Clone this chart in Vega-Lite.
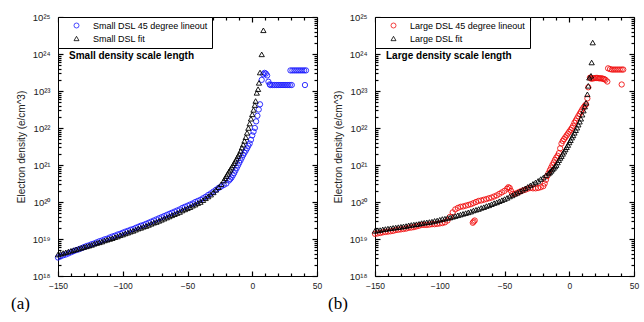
{
"$schema": "https://vega.github.io/schema/vega-lite/v6.json",
"padding": {"left": 10, "top": 11, "right": 5, "bottom": 0},
"background": "white",
"config": {
  "view": {"stroke": "black", "strokeWidth": 1},
  "font": "Liberation Sans",
  "axis": {"labelFont": "Liberation Sans", "labelFontSize": 8.5, "labelColor": "#222", "grid": false, "domain": false, "ticks": true, "tickColor": "black", "tickWidth": 1.2, "titleFont": "Liberation Sans"},
  "concat": {"spacing": 4}
},
"datasets": {
"ax": [{"x": 0, "y": 1e20}],
"a": [
{"s":"data","x":-150,"y":3.16e18},{"s":"data","x":-148,"y":3.39e18},{"s":"data","x":-146,"y":3.63e18},{"s":"data","x":-144,"y":3.80e18},{"s":"data","x":-142,"y":4.07e18},{"s":"data","x":-140,"y":4.37e18},{"s":"data","x":-138,"y":4.68e18},{"s":"data","x":-136,"y":5.01e18},{"s":"data","x":-134,"y":5.25e18},{"s":"data","x":-132,"y":5.62e18},{"s":"data","x":-130,"y":6.03e18},{"s":"data","x":-128,"y":6.46e18},{"s":"data","x":-126,"y":6.76e18},{"s":"data","x":-124,"y":7.24e18},{"s":"data","x":-122,"y":7.59e18},{"s":"data","x":-120,"y":8.13e18},{"s":"data","x":-118,"y":8.71e18},{"s":"data","x":-116,"y":9.12e18},{"s":"data","x":-114,"y":9.77e18},{"s":"data","x":-112,"y":1.02e19},{"s":"data","x":-110,"y":1.10e19},{"s":"data","x":-108,"y":1.17e19},{"s":"data","x":-106,"y":1.23e19},{"s":"data","x":-104,"y":1.32e19},{"s":"data","x":-102,"y":1.38e19},{"s":"data","x":-100,"y":1.48e19},{"s":"data","x":-98,"y":1.58e19},{"s":"data","x":-96,"y":1.66e19},{"s":"data","x":-94,"y":1.78e19},{"s":"data","x":-92,"y":1.86e19},{"s":"data","x":-90,"y":2.00e19},{"s":"data","x":-88,"y":2.14e19},{"s":"data","x":-86,"y":2.29e19},{"s":"data","x":-84,"y":2.40e19},{"s":"data","x":-82,"y":2.57e19},{"s":"data","x":-80,"y":2.75e19},{"s":"data","x":-78,"y":2.95e19},{"s":"data","x":-76,"y":3.16e19},{"s":"data","x":-74,"y":3.39e19},{"s":"data","x":-72,"y":3.63e19},{"s":"data","x":-70,"y":3.89e19},{"s":"data","x":-68,"y":4.17e19},{"s":"data","x":-66,"y":4.47e19},{"s":"data","x":-64,"y":4.79e19},{"s":"data","x":-62,"y":5.13e19},{"s":"data","x":-60,"y":5.50e19},{"s":"data","x":-58,"y":5.89e19},{"s":"data","x":-56,"y":6.31e19},{"s":"data","x":-54,"y":6.92e19},{"s":"data","x":-52,"y":7.41e19},{"s":"data","x":-50,"y":7.94e19},{"s":"data","x":-48,"y":8.51e19},{"s":"data","x":-46,"y":9.12e19},{"s":"data","x":-44,"y":1.00e20},{"s":"data","x":-42,"y":1.07e20},{"s":"data","x":-40,"y":1.15e20},{"s":"data","x":-38,"y":1.26e20},{"s":"data","x":-36,"y":1.38e20},{"s":"data","x":-34,"y":1.55e20},{"s":"data","x":-32,"y":1.70e20},{"s":"data","x":-30,"y":1.91e20},{"s":"data","x":-28,"y":2.14e20},{"s":"data","x":-26,"y":2.40e20},{"s":"data","x":-24,"y":2.63e20},{"s":"data","x":-22,"y":2.88e20},{"s":"data","x":-20,"y":3.16e20},{"s":"data","x":-18,"y":3.80e20},{"s":"data","x":-17,"y":4.17e20},{"s":"data","x":-16,"y":4.57e20},{"s":"data","x":-15,"y":5.25e20},{"s":"data","x":-14,"y":6.03e20},{"s":"data","x":-13,"y":7.08e20},{"s":"data","x":-12,"y":8.32e20},{"s":"data","x":-11,"y":9.77e20},{"s":"data","x":-10,"y":1.15e21},{"s":"data","x":-9,"y":1.35e21},{"s":"data","x":-8,"y":1.58e21},{"s":"data","x":-7,"y":1.86e21},{"s":"data","x":-6,"y":2.14e21},{"s":"data","x":-5,"y":2.45e21},{"s":"data","x":-4,"y":2.82e21},{"s":"data","x":-3,"y":3.31e21},{"s":"data","x":-2,"y":3.80e21},{"s":"data","x":-1,"y":4.79e21},{"s":"data","x":0,"y":6.31e21},{"s":"data","x":1,"y":7.94e21},{"s":"data","x":2,"y":1.00e22},{"s":"data","x":3,"y":1.51e22},{"s":"data","x":4,"y":2.14e22},{"s":"data","x":5,"y":3.16e22},{"s":"data","x":6,"y":4.37e22},{"s":"data","x":7.3,"y":2.00e23},{"s":"data","x":8.5,"y":2.82e23},{"s":"data","x":9.5,"y":3.09e23},{"s":"data","x":10.5,"y":2.95e23},{"s":"data","x":11.5,"y":2.63e23},{"s":"data","x":12.5,"y":1.78e23},{"s":"data","x":13.5,"y":1.51e23},{"s":"data","x":14,"y":1.45e23},{"s":"data","x":15.5,"y":1.45e23},{"s":"data","x":17,"y":1.45e23},{"s":"data","x":18.5,"y":1.45e23},{"s":"data","x":20,"y":1.45e23},{"s":"data","x":21.5,"y":1.45e23},{"s":"data","x":23,"y":1.45e23},{"s":"data","x":24.5,"y":1.45e23},{"s":"data","x":26,"y":1.45e23},{"s":"data","x":27.5,"y":1.45e23},{"s":"data","x":29,"y":1.45e23},{"s":"data","x":30.5,"y":1.45e23},{"s":"data","x":29.5,"y":3.6e23},{"s":"data","x":31,"y":3.6e23},{"s":"data","x":32.5,"y":3.6e23},{"s":"data","x":34,"y":3.6e23},{"s":"data","x":35.5,"y":3.6e23},{"s":"data","x":37,"y":3.6e23},{"s":"data","x":38.5,"y":3.6e23},{"s":"data","x":40,"y":3.6e23},{"s":"data","x":41.5,"y":3.6e23},{"s":"data","x":40.7,"y":1.45e23},
{"s":"fit","x":-150,"y":3.80e18},{"s":"fit","x":-148,"y":3.98e18},{"s":"fit","x":-146,"y":4.17e18},{"s":"fit","x":-144,"y":4.37e18},{"s":"fit","x":-142,"y":4.57e18},{"s":"fit","x":-140,"y":4.79e18},{"s":"fit","x":-138,"y":5.01e18},{"s":"fit","x":-136,"y":5.25e18},{"s":"fit","x":-134,"y":5.50e18},{"s":"fit","x":-132,"y":5.75e18},{"s":"fit","x":-130,"y":6.03e18},{"s":"fit","x":-128,"y":6.31e18},{"s":"fit","x":-126,"y":6.61e18},{"s":"fit","x":-124,"y":6.92e18},{"s":"fit","x":-122,"y":7.41e18},{"s":"fit","x":-120,"y":7.76e18},{"s":"fit","x":-118,"y":8.13e18},{"s":"fit","x":-116,"y":8.51e18},{"s":"fit","x":-114,"y":9.12e18},{"s":"fit","x":-112,"y":9.55e18},{"s":"fit","x":-110,"y":1.00e19},{"s":"fit","x":-108,"y":1.05e19},{"s":"fit","x":-106,"y":1.12e19},{"s":"fit","x":-104,"y":1.17e19},{"s":"fit","x":-102,"y":1.26e19},{"s":"fit","x":-100,"y":1.32e19},{"s":"fit","x":-98,"y":1.41e19},{"s":"fit","x":-96,"y":1.48e19},{"s":"fit","x":-94,"y":1.58e19},{"s":"fit","x":-92,"y":1.66e19},{"s":"fit","x":-90,"y":1.78e19},{"s":"fit","x":-88,"y":1.91e19},{"s":"fit","x":-86,"y":2.00e19},{"s":"fit","x":-84,"y":2.14e19},{"s":"fit","x":-82,"y":2.24e19},{"s":"fit","x":-80,"y":2.40e19},{"s":"fit","x":-78,"y":2.57e19},{"s":"fit","x":-76,"y":2.75e19},{"s":"fit","x":-74,"y":2.88e19},{"s":"fit","x":-72,"y":3.09e19},{"s":"fit","x":-70,"y":3.31e19},{"s":"fit","x":-68,"y":3.55e19},{"s":"fit","x":-66,"y":3.80e19},{"s":"fit","x":-64,"y":4.07e19},{"s":"fit","x":-62,"y":4.37e19},{"s":"fit","x":-60,"y":4.68e19},{"s":"fit","x":-58,"y":5.01e19},{"s":"fit","x":-56,"y":5.37e19},{"s":"fit","x":-54,"y":5.89e19},{"s":"fit","x":-52,"y":6.31e19},{"s":"fit","x":-50,"y":6.76e19},{"s":"fit","x":-48,"y":7.24e19},{"s":"fit","x":-46,"y":7.94e19},{"s":"fit","x":-44,"y":8.51e19},{"s":"fit","x":-42,"y":9.33e19},{"s":"fit","x":-40,"y":1.00e20},{"s":"fit","x":-38,"y":1.12e20},{"s":"fit","x":-36,"y":1.26e20},{"s":"fit","x":-34,"y":1.41e20},{"s":"fit","x":-32,"y":1.58e20},{"s":"fit","x":-30,"y":1.82e20},{"s":"fit","x":-28,"y":2.14e20},{"s":"fit","x":-26,"y":2.51e20},{"s":"fit","x":-24,"y":3.02e20},{"s":"fit","x":-22,"y":3.80e20},{"s":"fit","x":-21,"y":4.37e20},{"s":"fit","x":-20,"y":5.01e20},{"s":"fit","x":-19,"y":5.75e20},{"s":"fit","x":-18,"y":6.61e20},{"s":"fit","x":-17,"y":7.41e20},{"s":"fit","x":-16,"y":8.51e20},{"s":"fit","x":-15,"y":9.77e20},{"s":"fit","x":-14,"y":1.12e21},{"s":"fit","x":-13,"y":1.29e21},{"s":"fit","x":-12,"y":1.48e21},{"s":"fit","x":-11,"y":1.74e21},{"s":"fit","x":-10,"y":2.00e21},{"s":"fit","x":-9,"y":2.40e21},{"s":"fit","x":-8,"y":2.95e21},{"s":"fit","x":-7,"y":3.55e21},{"s":"fit","x":-6,"y":4.47e21},{"s":"fit","x":-5,"y":5.62e21},{"s":"fit","x":-4,"y":7.41e21},{"s":"fit","x":-3,"y":1.00e22},{"s":"fit","x":-2,"y":1.32e22},{"s":"fit","x":-1,"y":1.78e22},{"s":"fit","x":0,"y":2.34e22},{"s":"fit","x":1,"y":3.09e22},{"s":"fit","x":2,"y":4.17e22},{"s":"fit","x":2.6,"y":5.37e22},{"s":"fit","x":3.5,"y":8.91e22},{"s":"fit","x":4.5,"y":1.12e23},{"s":"fit","x":5.2,"y":1.66e23},{"s":"fit","x":6.0,"y":3.16e23},{"s":"fit","x":7.3,"y":9.77e23},{"s":"fit","x":8.6,"y":4.37e24}
],
"b": [
{"s":"data","x":-150,"y":1.38e19},{"s":"data","x":-148,"y":1.41e19},{"s":"data","x":-146,"y":1.45e19},{"s":"data","x":-144,"y":1.51e19},{"s":"data","x":-142,"y":1.55e19},{"s":"data","x":-140,"y":1.58e19},{"s":"data","x":-138,"y":1.62e19},{"s":"data","x":-136,"y":1.66e19},{"s":"data","x":-134,"y":1.74e19},{"s":"data","x":-132,"y":1.78e19},{"s":"data","x":-130,"y":1.82e19},{"s":"data","x":-128,"y":1.86e19},{"s":"data","x":-126,"y":1.91e19},{"s":"data","x":-124,"y":2.00e19},{"s":"data","x":-122,"y":2.04e19},{"s":"data","x":-120,"y":2.09e19},{"s":"data","x":-118,"y":2.19e19},{"s":"data","x":-116,"y":2.29e19},{"s":"data","x":-114,"y":2.40e19},{"s":"data","x":-112,"y":2.40e19},{"s":"data","x":-110,"y":2.40e19},{"s":"data","x":-108,"y":2.45e19},{"s":"data","x":-106,"y":2.51e19},{"s":"data","x":-104,"y":2.51e19},{"s":"data","x":-102,"y":2.57e19},{"s":"data","x":-100,"y":2.63e19},{"s":"data","x":-98,"y":2.69e19},{"s":"data","x":-96,"y":2.82e19},{"s":"data","x":-94,"y":3.16e19},{"s":"data","x":-92,"y":3.98e19},{"s":"data","x":-90,"y":5.25e19},{"s":"data","x":-88,"y":6.31e19},{"s":"data","x":-86,"y":6.92e19},{"s":"data","x":-84,"y":7.41e19},{"s":"data","x":-82,"y":7.59e19},{"s":"data","x":-80,"y":7.94e19},{"s":"data","x":-78,"y":8.32e19},{"s":"data","x":-76,"y":8.71e19},{"s":"data","x":-74,"y":9.33e19},{"s":"data","x":-72,"y":1.00e20},{"s":"data","x":-70,"y":1.07e20},{"s":"data","x":-68,"y":1.10e20},{"s":"data","x":-66,"y":1.15e20},{"s":"data","x":-64,"y":1.20e20},{"s":"data","x":-62,"y":1.26e20},{"s":"data","x":-60,"y":1.32e20},{"s":"data","x":-58,"y":1.41e20},{"s":"data","x":-56,"y":1.51e20},{"s":"data","x":-54,"y":1.66e20},{"s":"data","x":-52,"y":1.82e20},{"s":"data","x":-50,"y":2.00e20},{"s":"data","x":-48,"y":2.29e20},{"s":"data","x":-47,"y":2.51e20},{"s":"data","x":-46,"y":2.40e20},{"s":"data","x":-45,"y":2.00e20},{"s":"data","x":-44,"y":1.66e20},{"s":"data","x":-42,"y":1.66e20},{"s":"data","x":-40,"y":1.78e20},{"s":"data","x":-38,"y":1.91e20},{"s":"data","x":-36,"y":2.04e20},{"s":"data","x":-34,"y":2.14e20},{"s":"data","x":-32,"y":2.29e20},{"s":"data","x":-30,"y":2.40e20},{"s":"data","x":-28,"y":2.34e20},{"s":"data","x":-26,"y":2.34e20},{"s":"data","x":-24,"y":2.40e20},{"s":"data","x":-22,"y":2.51e20},{"s":"data","x":-20,"y":2.69e20},{"s":"data","x":-19,"y":3.16e20},{"s":"data","x":-18,"y":3.98e20},{"s":"data","x":-17,"y":5.01e20},{"s":"data","x":-16,"y":6.03e20},{"s":"data","x":-15,"y":7.24e20},{"s":"data","x":-14,"y":8.51e20},{"s":"data","x":-13,"y":1.00e21},{"s":"data","x":-12,"y":1.17e21},{"s":"data","x":-11,"y":1.38e21},{"s":"data","x":-10,"y":1.58e21},{"s":"data","x":-9,"y":1.78e21},{"s":"data","x":-8,"y":2.09e21},{"s":"data","x":-7,"y":2.82e21},{"s":"data","x":-6,"y":3.80e21},{"s":"data","x":-5,"y":4.47e21},{"s":"data","x":-4,"y":5.01e21},{"s":"data","x":-3,"y":5.62e21},{"s":"data","x":-2,"y":6.31e21},{"s":"data","x":-1,"y":7.08e21},{"s":"data","x":0,"y":7.94e21},{"s":"data","x":1,"y":8.91e21},{"s":"data","x":2,"y":1.00e22},{"s":"data","x":3,"y":1.15e22},{"s":"data","x":4,"y":1.38e22},{"s":"data","x":5,"y":1.58e22},{"s":"data","x":6,"y":1.82e22},{"s":"data","x":7,"y":2.09e22},{"s":"data","x":8,"y":2.40e22},{"s":"data","x":9,"y":2.75e22},{"s":"data","x":10,"y":3.16e22},{"s":"data","x":11,"y":3.55e22},{"s":"data","x":12,"y":3.98e22},{"s":"data","x":13,"y":4.37e22},{"s":"data","x":14,"y":6.31e22},{"s":"data","x":14.7,"y":1.26e23},{"s":"data","x":16,"y":2.29e23},{"s":"data","x":17,"y":2.15e23},{"s":"data","x":18,"y":2.2e23},{"s":"data","x":19,"y":2.2e23},{"s":"data","x":20,"y":2.25e23},{"s":"data","x":21,"y":2.25e23},{"s":"data","x":22,"y":2.25e23},{"s":"data","x":23,"y":2.2e23},{"s":"data","x":24,"y":2.2e23},{"s":"data","x":25,"y":2.2e23},{"s":"data","x":26,"y":2.15e23},{"s":"data","x":27,"y":2.1e23},{"s":"data","x":28,"y":2.0e23},{"s":"data","x":29.4,"y":1.8e23},{"s":"data","x":30,"y":4.1e23},{"s":"data","x":31.5,"y":3.9e23},{"s":"data","x":33,"y":3.8e23},{"s":"data","x":34.5,"y":3.8e23},{"s":"data","x":36,"y":3.8e23},{"s":"data","x":37.5,"y":3.8e23},{"s":"data","x":39,"y":3.8e23},{"s":"data","x":40.5,"y":3.8e23},{"s":"data","x":41.7,"y":3.8e23},{"s":"data","x":40.5,"y":1.5e23},{"s":"data","x":-74.5,"y":2.75e19},{"s":"data","x":-73.8,"y":2.95e19},{"s":"data","x":-73,"y":3.16e19},
{"s":"fit","x":-150,"y":1.66e19},{"s":"fit","x":-148,"y":1.70e19},{"s":"fit","x":-146,"y":1.74e19},{"s":"fit","x":-144,"y":1.82e19},{"s":"fit","x":-142,"y":1.86e19},{"s":"fit","x":-140,"y":1.91e19},{"s":"fit","x":-138,"y":1.95e19},{"s":"fit","x":-136,"y":2.00e19},{"s":"fit","x":-134,"y":2.04e19},{"s":"fit","x":-132,"y":2.09e19},{"s":"fit","x":-130,"y":2.14e19},{"s":"fit","x":-128,"y":2.19e19},{"s":"fit","x":-126,"y":2.24e19},{"s":"fit","x":-124,"y":2.34e19},{"s":"fit","x":-122,"y":2.40e19},{"s":"fit","x":-120,"y":2.45e19},{"s":"fit","x":-118,"y":2.51e19},{"s":"fit","x":-116,"y":2.57e19},{"s":"fit","x":-114,"y":2.69e19},{"s":"fit","x":-112,"y":2.75e19},{"s":"fit","x":-110,"y":2.82e19},{"s":"fit","x":-108,"y":2.88e19},{"s":"fit","x":-106,"y":2.95e19},{"s":"fit","x":-104,"y":3.09e19},{"s":"fit","x":-102,"y":3.16e19},{"s":"fit","x":-100,"y":3.31e19},{"s":"fit","x":-98,"y":3.47e19},{"s":"fit","x":-96,"y":3.55e19},{"s":"fit","x":-94,"y":3.72e19},{"s":"fit","x":-92,"y":3.80e19},{"s":"fit","x":-90,"y":3.98e19},{"s":"fit","x":-88,"y":4.17e19},{"s":"fit","x":-86,"y":4.37e19},{"s":"fit","x":-84,"y":4.57e19},{"s":"fit","x":-82,"y":4.79e19},{"s":"fit","x":-80,"y":5.01e19},{"s":"fit","x":-78,"y":5.25e19},{"s":"fit","x":-76,"y":5.50e19},{"s":"fit","x":-74,"y":5.89e19},{"s":"fit","x":-72,"y":6.17e19},{"s":"fit","x":-70,"y":6.46e19},{"s":"fit","x":-68,"y":6.92e19},{"s":"fit","x":-66,"y":7.24e19},{"s":"fit","x":-64,"y":7.76e19},{"s":"fit","x":-62,"y":8.13e19},{"s":"fit","x":-60,"y":8.71e19},{"s":"fit","x":-58,"y":9.33e19},{"s":"fit","x":-56,"y":9.77e19},{"s":"fit","x":-54,"y":1.05e20},{"s":"fit","x":-52,"y":1.12e20},{"s":"fit","x":-50,"y":1.20e20},{"s":"fit","x":-48,"y":1.29e20},{"s":"fit","x":-46,"y":1.41e20},{"s":"fit","x":-44,"y":1.51e20},{"s":"fit","x":-42,"y":1.66e20},{"s":"fit","x":-40,"y":1.78e20},{"s":"fit","x":-38,"y":1.95e20},{"s":"fit","x":-36,"y":2.14e20},{"s":"fit","x":-34,"y":2.34e20},{"s":"fit","x":-32,"y":2.57e20},{"s":"fit","x":-30,"y":2.82e20},{"s":"fit","x":-28,"y":3.09e20},{"s":"fit","x":-26,"y":3.39e20},{"s":"fit","x":-24,"y":3.72e20},{"s":"fit","x":-22,"y":4.17e20},{"s":"fit","x":-20,"y":4.57e20},{"s":"fit","x":-18,"y":5.25e20},{"s":"fit","x":-16,"y":5.89e20},{"s":"fit","x":-15,"y":6.31e20},{"s":"fit","x":-14,"y":6.92e20},{"s":"fit","x":-13,"y":7.59e20},{"s":"fit","x":-12,"y":8.32e20},{"s":"fit","x":-11,"y":9.12e20},{"s":"fit","x":-10,"y":1.00e21},{"s":"fit","x":-9,"y":1.17e21},{"s":"fit","x":-8,"y":1.35e21},{"s":"fit","x":-7,"y":1.55e21},{"s":"fit","x":-6,"y":1.74e21},{"s":"fit","x":-5,"y":2.00e21},{"s":"fit","x":-4,"y":2.29e21},{"s":"fit","x":-3,"y":2.63e21},{"s":"fit","x":-2,"y":3.02e21},{"s":"fit","x":-1,"y":3.47e21},{"s":"fit","x":0,"y":4.07e21},{"s":"fit","x":1,"y":4.68e21},{"s":"fit","x":2,"y":5.50e21},{"s":"fit","x":3,"y":6.31e21},{"s":"fit","x":4,"y":7.41e21},{"s":"fit","x":5,"y":8.71e21},{"s":"fit","x":6,"y":1.02e22},{"s":"fit","x":7,"y":1.23e22},{"s":"fit","x":8,"y":1.48e22},{"s":"fit","x":9,"y":1.78e22},{"s":"fit","x":10,"y":2.29e22},{"s":"fit","x":11,"y":2.95e22},{"s":"fit","x":12,"y":3.80e22},{"s":"fit","x":13,"y":4.79e22},{"s":"fit","x":14,"y":8.13e22},{"s":"fit","x":14.7,"y":1.38e23},{"s":"fit","x":15.5,"y":2.29e23},{"s":"fit","x":16.8,"y":2.57e23},{"s":"fit","x":17.3,"y":5.89e23},{"s":"fit","x":18.1,"y":2.04e24}
]
},
"hconcat": [
{
  "width": 259, "height": 259,
  "title": {"text": "(a)", "orient": "bottom", "anchor": "start", "frame": "bounds", "font": "Liberation Serif", "fontSize": 17, "fontWeight": "normal", "color": "black", "offset": 6, "dx": -5},
  "layer": [
    {"data": {"name": "a"}, "mark": {"type": "point", "filled": false, "strokeWidth": 0.9, "size": 28, "opacity": 1},
     "encoding": {
      "x": {"field": "x", "type": "quantitative", "scale": {"domain": [-150, 50], "nice": false, "zero": false}, "axis": {"orient": "bottom", "values": [-150, -100, -50, 0, 50], "ticks": false, "title": null, "labelPadding": 5, "labelFlush": false}},
      "y": {"field": "y", "type": "quantitative", "scale": {"type": "log", "domain": [1e18, 1e25], "nice": false}, "axis": {"orient": "left", "values": [1e18, 1e19, 1e20, 1e21, 1e22, 1e23, 1e24, 1e25], "ticks": false, "labelPadding": 8, "labelFontSize": 9.5, "minExtent": 25, "maxExtent": 25, "labelExpr": "'10' + ['¹⁸','¹⁹','²⁰','²¹','²²','²³','²⁴','²⁵'][round(log(datum.value)/LN10) - 18]", "title": "Electron density (e/cm^3)", "titleFontSize": 10, "titleFontWeight": "normal", "titleColor": "#222", "titlePadding": 7}},
      "color": {"field": "s", "type": "nominal", "scale": {"domain": ["data", "fit"], "range": ["#1a1aff", "black"]},
        "legend": {"title": null, "orient": "top-left", "offset": 0, "padding": 4, "strokeColor": "black", "fillColor": "white", "cornerRadius": 0, "labelFont": "Liberation Sans", "labelFontSize": 9, "symbolSize": 25, "symbolStrokeWidth": 0.8, "rowPadding": 3, "symbolOffset": 10, "labelOffset": 12,
          "labelExpr": "datum.value == 'data' ? 'Small DSL 45 degree lineout' : 'Small DSL fit'",
          "encode": {"labels": {"update": {"fill": {"signal": "datum.value == 'data' ? '#1a1aff' : '#111'"}}}}}},
      "shape": {"field": "s", "type": "nominal", "scale": {"domain": ["data", "fit"], "range": ["circle", "triangle-up"]}}
     }},
    {"data": {"name": "ax"}, "mark": {"type": "point", "opacity": 0},
     "encoding": {
      "x": {"field": "x", "type": "quantitative", "scale": {"domain": [-150, 50], "nice": false, "zero": false}, "axis": {"orient": "bottom", "values": [-150, -100, -50, 0, 50], "labels": false, "ticks": true, "tickSize": -5, "title": null}},
      "y": {"field": "y", "type": "quantitative", "scale": {"type": "log", "domain": [1e18, 1e25], "nice": false}, "axis": {"orient": "left", "values": [1e18, 1e19, 1e20, 1e21, 1e22, 1e23, 1e24, 1e25], "labels": false, "ticks": true, "tickSize": -5, "title": null}}
     }},
    {"data": {"name": "ax"}, "mark": {"type": "point", "opacity": 0},
     "encoding": {
      "x": {"field": "x", "type": "quantitative", "scale": {"domain": [-150, 50], "nice": false, "zero": false}, "axis": {"orient": "bottom", "values": [-140, -130, -120, -110, -90, -80, -70, -60, -40, -30, -20, -10, 10, 20, 30, 40], "labels": false, "ticks": true, "tickSize": -3, "title": null}},
      "y": {"field": "y", "type": "quantitative", "scale": {"type": "log", "domain": [1e18, 1e25], "nice": false}, "axis": {"orient": "left", "values": [2e18,3e18,4e18,5e18,6e18,7e18,8e18,9e18,2e19,3e19,4e19,5e19,6e19,7e19,8e19,9e19,2e20,3e20,4e20,5e20,6e20,7e20,8e20,9e20,2e21,3e21,4e21,5e21,6e21,7e21,8e21,9e21,2e22,3e22,4e22,5e22,6e22,7e22,8e22,9e22,2e23,3e23,4e23,5e23,6e23,7e23,8e23,9e23,2e24,3e24,4e24,5e24,6e24,7e24,8e24,9e24], "labels": false, "ticks": true, "tickSize": -3, "title": null}}
     }},
    {"data": {"name": "ax"}, "mark": {"type": "point", "opacity": 0},
     "encoding": {
      "x": {"field": "x", "type": "quantitative", "scale": {"domain": [-150, 50], "nice": false, "zero": false}, "axis": {"orient": "top", "values": [-150, -100, -50, 0, 50], "labels": false, "ticks": true, "tickSize": -5, "title": null}},
      "y": {"field": "y", "type": "quantitative", "scale": {"type": "log", "domain": [1e18, 1e25], "nice": false}, "axis": {"orient": "right", "values": [1e18, 1e19, 1e20, 1e21, 1e22, 1e23, 1e24, 1e25], "labels": false, "ticks": true, "tickSize": -5, "title": null}}
     }},
    {"data": {"name": "ax"}, "mark": {"type": "point", "opacity": 0},
     "encoding": {
      "x": {"field": "x", "type": "quantitative", "scale": {"domain": [-150, 50], "nice": false, "zero": false}, "axis": {"orient": "top", "values": [-140, -130, -120, -110, -90, -80, -70, -60, -40, -30, -20, -10, 10, 20, 30, 40], "labels": false, "ticks": true, "tickSize": -3, "title": null}},
      "y": {"field": "y", "type": "quantitative", "scale": {"type": "log", "domain": [1e18, 1e25], "nice": false}, "axis": {"orient": "right", "values": [2e18,3e18,4e18,5e18,6e18,7e18,8e18,9e18,2e19,3e19,4e19,5e19,6e19,7e19,8e19,9e19,2e20,3e20,4e20,5e20,6e20,7e20,8e20,9e20,2e21,3e21,4e21,5e21,6e21,7e21,8e21,9e21,2e22,3e22,4e22,5e22,6e22,7e22,8e22,9e22,2e23,3e23,4e23,5e23,6e23,7e23,8e23,9e23,2e24,3e24,4e24,5e24,6e24,7e24,8e24,9e24], "labels": false, "ticks": true, "tickSize": -3, "title": null}}
     }},
    {"data": {"values": [{"t": "Small density scale length"}]}, "mark": {"type": "text", "align": "left", "baseline": "middle", "fontWeight": "bold", "fontSize": 10, "font": "Liberation Sans", "color": "black"},
     "encoding": {
      "x": {"datum": -141.5, "type": "quantitative", "scale": {"domain": [-150, 50], "nice": false, "zero": false}, "axis": null},
      "y": {"datum": 9e23, "type": "quantitative", "scale": {"type": "log", "domain": [1e18, 1e25], "nice": false}, "axis": null},
      "text": {"field": "t"}
     }}
  ],
  "resolve": {"axis": {"x": "independent", "y": "independent"}}
},
{
  "width": 259, "height": 259,
  "title": {"text": "(b)", "orient": "bottom", "anchor": "start", "frame": "bounds", "font": "Liberation Serif", "fontSize": 17, "fontWeight": "normal", "color": "black", "offset": 6, "dx": -5},
  "layer": [
    {"data": {"name": "b"}, "mark": {"type": "point", "filled": false, "strokeWidth": 0.9, "size": 28, "opacity": 1},
     "encoding": {
      "x": {"field": "x", "type": "quantitative", "scale": {"domain": [-150, 50], "nice": false, "zero": false}, "axis": {"orient": "bottom", "values": [-150, -100, -50, 0, 50], "ticks": false, "title": null, "labelPadding": 5, "labelFlush": false}},
      "y": {"field": "y", "type": "quantitative", "scale": {"type": "log", "domain": [1e18, 1e25], "nice": false}, "axis": {"orient": "left", "values": [1e18, 1e19, 1e20, 1e21, 1e22, 1e23, 1e24, 1e25], "ticks": false, "labelPadding": 8, "labelFontSize": 9.5, "minExtent": 25, "maxExtent": 25, "labelExpr": "'10' + ['¹⁸','¹⁹','²⁰','²¹','²²','²³','²⁴','²⁵'][round(log(datum.value)/LN10) - 18]", "title": "Electron density (e/cm^3)", "titleFontSize": 10, "titleFontWeight": "normal", "titleColor": "#222", "titlePadding": 7}},
      "color": {"field": "s", "type": "nominal", "scale": {"domain": ["data", "fit"], "range": ["#f01010", "black"]},
        "legend": {"title": null, "orient": "top-left", "offset": 0, "padding": 4, "strokeColor": "black", "fillColor": "white", "cornerRadius": 0, "labelFont": "Liberation Sans", "labelFontSize": 9, "symbolSize": 25, "symbolStrokeWidth": 0.8, "rowPadding": 3, "symbolOffset": 10, "labelOffset": 12,
          "labelExpr": "datum.value == 'data' ? 'Large DSL 45 degree lineout' : 'Large DSL fit'",
          "encode": {"labels": {"update": {"fill": {"signal": "datum.value == 'data' ? '#f01010' : '#111'"}}}}}},
      "shape": {"field": "s", "type": "nominal", "scale": {"domain": ["data", "fit"], "range": ["circle", "triangle-up"]}}
     }},
    {"data": {"name": "ax"}, "mark": {"type": "point", "opacity": 0},
     "encoding": {
      "x": {"field": "x", "type": "quantitative", "scale": {"domain": [-150, 50], "nice": false, "zero": false}, "axis": {"orient": "bottom", "values": [-150, -100, -50, 0, 50], "labels": false, "ticks": true, "tickSize": -5, "title": null}},
      "y": {"field": "y", "type": "quantitative", "scale": {"type": "log", "domain": [1e18, 1e25], "nice": false}, "axis": {"orient": "left", "values": [1e18, 1e19, 1e20, 1e21, 1e22, 1e23, 1e24, 1e25], "labels": false, "ticks": true, "tickSize": -5, "title": null}}
     }},
    {"data": {"name": "ax"}, "mark": {"type": "point", "opacity": 0},
     "encoding": {
      "x": {"field": "x", "type": "quantitative", "scale": {"domain": [-150, 50], "nice": false, "zero": false}, "axis": {"orient": "bottom", "values": [-140, -130, -120, -110, -90, -80, -70, -60, -40, -30, -20, -10, 10, 20, 30, 40], "labels": false, "ticks": true, "tickSize": -3, "title": null}},
      "y": {"field": "y", "type": "quantitative", "scale": {"type": "log", "domain": [1e18, 1e25], "nice": false}, "axis": {"orient": "left", "values": [2e18,3e18,4e18,5e18,6e18,7e18,8e18,9e18,2e19,3e19,4e19,5e19,6e19,7e19,8e19,9e19,2e20,3e20,4e20,5e20,6e20,7e20,8e20,9e20,2e21,3e21,4e21,5e21,6e21,7e21,8e21,9e21,2e22,3e22,4e22,5e22,6e22,7e22,8e22,9e22,2e23,3e23,4e23,5e23,6e23,7e23,8e23,9e23,2e24,3e24,4e24,5e24,6e24,7e24,8e24,9e24], "labels": false, "ticks": true, "tickSize": -3, "title": null}}
     }},
    {"data": {"name": "ax"}, "mark": {"type": "point", "opacity": 0},
     "encoding": {
      "x": {"field": "x", "type": "quantitative", "scale": {"domain": [-150, 50], "nice": false, "zero": false}, "axis": {"orient": "top", "values": [-150, -100, -50, 0, 50], "labels": false, "ticks": true, "tickSize": -5, "title": null}},
      "y": {"field": "y", "type": "quantitative", "scale": {"type": "log", "domain": [1e18, 1e25], "nice": false}, "axis": {"orient": "right", "values": [1e18, 1e19, 1e20, 1e21, 1e22, 1e23, 1e24, 1e25], "labels": false, "ticks": true, "tickSize": -5, "title": null}}
     }},
    {"data": {"name": "ax"}, "mark": {"type": "point", "opacity": 0},
     "encoding": {
      "x": {"field": "x", "type": "quantitative", "scale": {"domain": [-150, 50], "nice": false, "zero": false}, "axis": {"orient": "top", "values": [-140, -130, -120, -110, -90, -80, -70, -60, -40, -30, -20, -10, 10, 20, 30, 40], "labels": false, "ticks": true, "tickSize": -3, "title": null}},
      "y": {"field": "y", "type": "quantitative", "scale": {"type": "log", "domain": [1e18, 1e25], "nice": false}, "axis": {"orient": "right", "values": [2e18,3e18,4e18,5e18,6e18,7e18,8e18,9e18,2e19,3e19,4e19,5e19,6e19,7e19,8e19,9e19,2e20,3e20,4e20,5e20,6e20,7e20,8e20,9e20,2e21,3e21,4e21,5e21,6e21,7e21,8e21,9e21,2e22,3e22,4e22,5e22,6e22,7e22,8e22,9e22,2e23,3e23,4e23,5e23,6e23,7e23,8e23,9e23,2e24,3e24,4e24,5e24,6e24,7e24,8e24,9e24], "labels": false, "ticks": true, "tickSize": -3, "title": null}}
     }},
    {"data": {"values": [{"t": "Large density scale length"}]}, "mark": {"type": "text", "align": "left", "baseline": "middle", "fontWeight": "bold", "fontSize": 10, "font": "Liberation Sans", "color": "black"},
     "encoding": {
      "x": {"datum": -141.5, "type": "quantitative", "scale": {"domain": [-150, 50], "nice": false, "zero": false}, "axis": null},
      "y": {"datum": 9e23, "type": "quantitative", "scale": {"type": "log", "domain": [1e18, 1e25], "nice": false}, "axis": null},
      "text": {"field": "t"}
     }}
  ],
  "resolve": {"axis": {"x": "independent", "y": "independent"}}
}
],
"resolve": {"scale": {"color": "independent", "shape": "independent", "x": "independent", "y": "independent"}, "legend": {"color": "independent", "shape": "independent"}}
}
